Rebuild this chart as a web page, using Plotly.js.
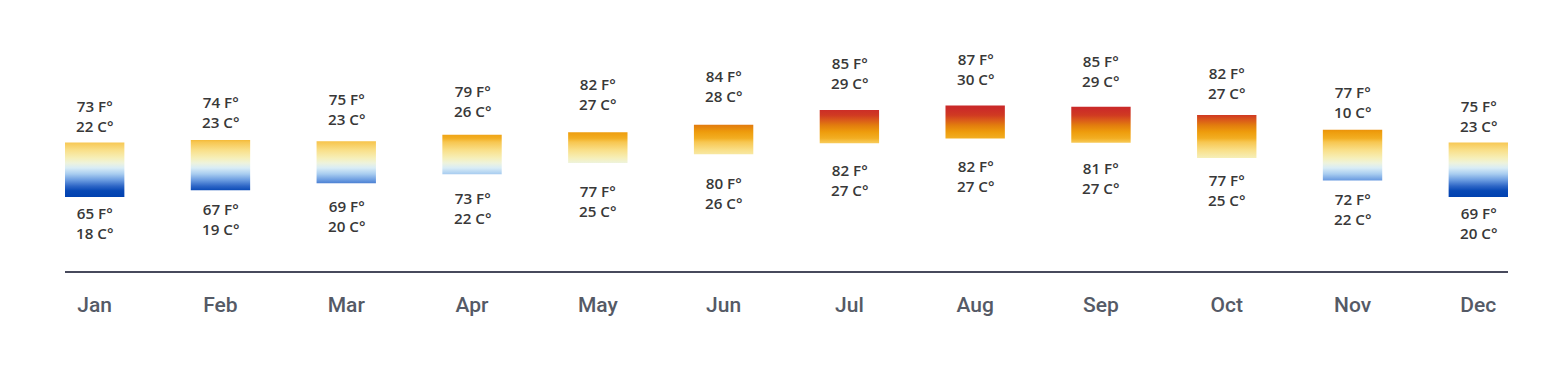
<!DOCTYPE html>
<html>
<head>
<meta charset="utf-8">
<script src="https://cdn.plot.ly/plotly-3.0.1.min.js"></script>
<style>html,body{margin:0;padding:0;background:#fff;}#chart{width:1566px;height:376px;}</style>
</head>
<body>
<div id="chart"></div>
<script>
// ---- data ----
var months = ["Jan","Feb","Mar","Apr","May","Jun","Jul","Aug","Sep","Oct","Nov","Dec"];
var highF = [73, 74, 75, 79, 82, 84, 85, 87, 85, 82, 77, 75];
var highC = [22, 23, 23, 26, 27, 28, 29, 30, 29, 27, 10, 23];
var lowF  = [65, 67, 69, 73, 77, 80, 82, 82, 81, 77, 72, 69];
var lowC  = [18, 19, 20, 22, 25, 26, 27, 27, 27, 25, 22, 20];
// visible extent of each gradient bar (°F scale of the drawing)
var barTop    = [78.0, 78.6, 78.3, 79.8, 80.4, 82.2, 85.7, 86.8, 86.5, 84.5, 81.0, 78.0];
var barBottom = [65.0, 66.6, 68.3, 70.4, 73.1, 75.2, 77.8, 78.9, 77.9, 74.3, 68.9, 65.0];

// ---- styling ----
var colorscale = [
  [0.000, "#0041b0"],
  [0.068, "#0848b5"],
  [0.118, "#2e66c6"],
  [0.182, "#6a9be0"],
  [0.250, "#a9cdf0"],
  [0.314, "#d8ecf6"],
  [0.368, "#eef3dc"],
  [0.423, "#f6efb8"],
  [0.509, "#f9df88"],
  [0.595, "#f7c650"],
  [0.636, "#f2ae22"],
  [0.705, "#ee9c0c"],
  [0.777, "#e27c0e"],
  [0.832, "#da5a1a"],
  [0.886, "#d03a22"],
  [0.955, "#cb2b28"],
  [1.000, "#c82828"]
];
var gradStart = 65, gradStop = 87;
var halfW = 0.236;
var labelFont = {family: "'Open Sans', sans-serif", size: 15.2, color: "#383838", weight: 600};

var traces = [];
var annotations = [];
months.forEach(function(m, i) {
  var lo = barBottom[i], hi = barTop[i];
  traces.push({
    type: "scatter",
    mode: "none",
    x: [i - halfW, i + halfW, i + halfW, i - halfW, i - halfW],
    y: [lo, lo, hi, hi, lo],
    fill: "toself",
    fillgradient: {type: "vertical", start: gradStart, stop: gradStop, colorscale: colorscale},
    hoverinfo: "skip",
    showlegend: false
  });
  var mid = (lo + hi) / 2;
  annotations.push({
    x: i, y: mid, xref: "x", yref: "y",
    text: highF[i] + " F°<br>" + highC[i] + " C°",
    showarrow: false, xanchor: "center", yanchor: "middle",
    yshift: 53.5, font: labelFont
  });
  annotations.push({
    x: i, y: mid, xref: "x", yref: "y",
    text: lowF[i] + " F°<br>" + lowC[i] + " C°",
    showarrow: false, xanchor: "center", yanchor: "middle",
    yshift: -53.5, font: labelFont
  });
});

var layout = {
  width: 1566, height: 376,
  margin: {l: 65, r: 58, t: 20, b: 105},
  paper_bgcolor: "#ffffff", plot_bgcolor: "#ffffff",
  showlegend: false,
  xaxis: {
    type: "linear",
    range: [-halfW, 11 + halfW],
    tickvals: months.map(function(m, i) { return i; }),
    ticktext: months,
    showgrid: false, zeroline: false,
    showline: true, linecolor: "#474a5c", linewidth: 2,
    ticks: "",
    ticklabelstandoff: 14,
    tickfont: {family: "Roboto, sans-serif", size: 21, color: "#555a66", weight: 500},
    fixedrange: true
  },
  yaxis: {
    range: [47.381, 107.143],
    visible: false, showgrid: false, zeroline: false, fixedrange: true
  },
  annotations: annotations
};

Plotly.newPlot("chart", traces, layout, {displayModeBar: false, staticPlot: true});
</script>
</body>
</html>
